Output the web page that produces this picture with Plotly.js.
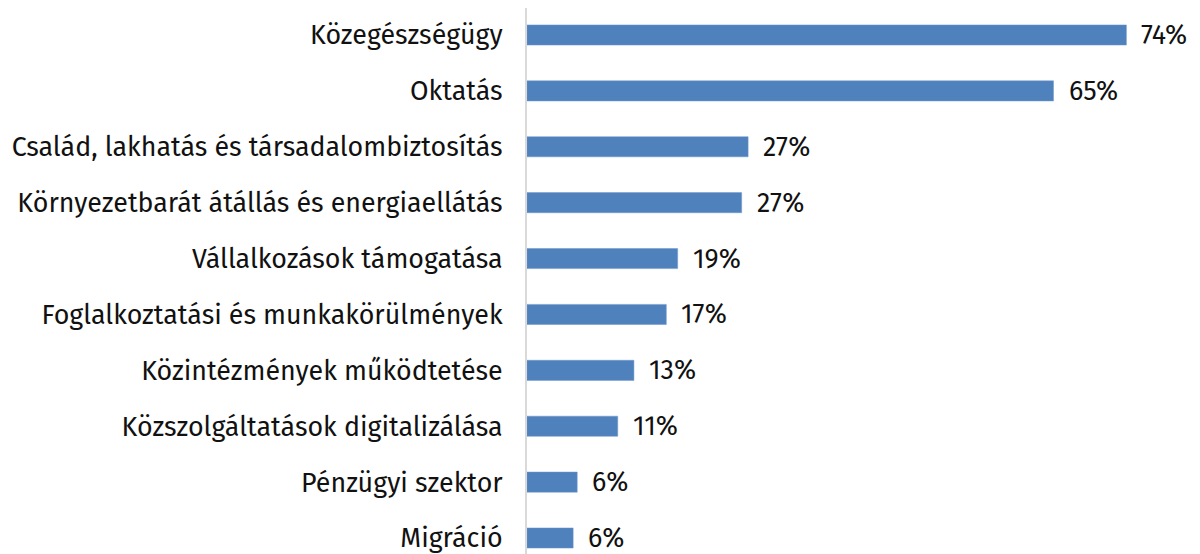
<!DOCTYPE html>
<html>
<head>
<meta charset="utf-8">
<script src="https://cdn.plot.ly/plotly-3.0.1.min.js"></script>
<style>html,body{margin:0;padding:0;background:#fff;}#chart{width:1200px;height:554px;}</style>
</head>
<body>
<div id="chart"></div>
<script>
const categories = [
  "Közegészségügy",
  "Oktatás",
  "Család, lakhatás és társadalombiztosítás",
  "Környezetbarát átállás és energiaellátás",
  "Vállalkozások támogatása",
  "Foglalkoztatási és munkakörülmények",
  "Közintézmények működtetése",
  "Közszolgáltatások digitalizálása",
  "Pénzügyi szektor",
  "Migráció"
];
const values = [74, 65, 27.3, 26.5, 18.6, 17.2, 13.2, 11.2, 6.2, 5.7];
const valueLabels = ["74%", "65%", "27%", "27%", "19%", "17%", "13%", "11%", "6%", "6%"];

const FONT = "Fira Sans, Noto Sans, Open Sans, sans-serif";

const trace = {
  type: "bar",
  orientation: "h",
  y: categories,
  x: values,
  marker: { color: "#4f81bd", line: { color: "#6f97cc", width: 0.5 } },
  hoverinfo: "none"
};

const annotations = categories.map((c, i) => ({
  x: values[i], y: c, xref: "x", yref: "y",
  text: valueLabels[i], showarrow: false,
  xanchor: "left", yanchor: "middle", xshift: 13,
  font: { family: FONT, size: 26.8, color: "#111111" }
}));

const layout = {
  width: 1200, height: 554,
  margin: { l: 527, r: 25, t: 8, b: 0 },
  paper_bgcolor: "#ffffff", plot_bgcolor: "#ffffff",
  showlegend: false,
  bargap: 0.64,
  xaxis: { range: [0, 80], visible: false, showgrid: false, zeroline: false, fixedrange: true },
  yaxis: {
    type: "category",
    range: [9.286, -0.483],
    showgrid: false, zeroline: false,
    showline: true, linecolor: "#d9d9d9", linewidth: 2,
    ticks: "", ticklabelstandoff: 17,
    tickfont: { family: FONT, size: 26.8, color: "#111111" },
    fixedrange: true
  },
  annotations: annotations
};

Plotly.newPlot("chart", [trace], layout, { displayModeBar: false, staticPlot: true });
</script>
</body>
</html>
